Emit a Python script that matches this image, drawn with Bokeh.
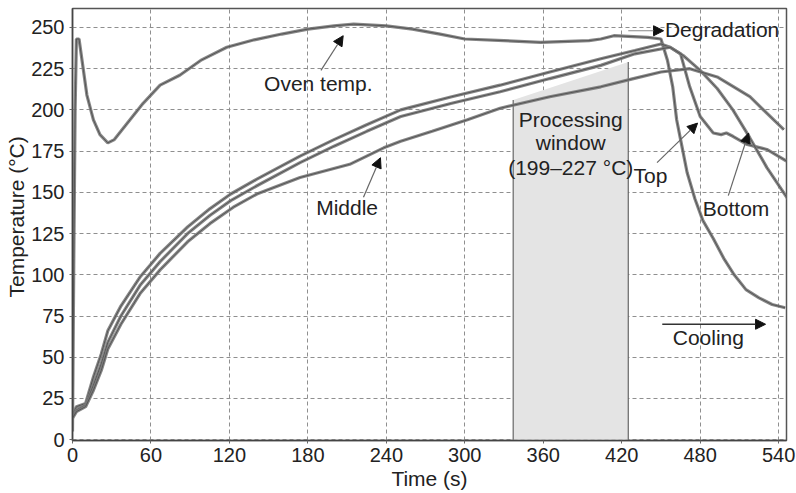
from bokeh.plotting import figure
from bokeh.models import Range1d, Label, Arrow, NormalHead, FixedTicker, Title
from bokeh.embed import file_html
from bokeh.resources import INLINE

# ---- data ----
oven_t = [0, 1, 2, 3, 5, 8, 11, 16, 21, 27, 32, 42, 54, 67, 82, 98, 118, 139, 160, 180,
          200, 215, 240, 260, 281, 300, 330, 358, 395, 404, 414, 440, 450, 455, 459, 462,
          466, 470, 476, 482, 490, 498, 506, 515, 525, 535, 545]
oven_v = [5, 110, 200, 243, 243, 226, 209, 194, 185, 180, 182, 192, 204, 215, 221, 230, 238,
          242.5, 246, 249, 251, 252, 251, 249, 246, 243, 242, 241, 242, 243, 245, 244, 243,
          230, 214, 194, 178, 162, 146, 133, 122, 110, 100, 91, 86, 82, 80]

top_t = [0, 3, 10, 16, 22, 27, 37, 52, 67, 88, 105, 121, 141, 174, 200, 225, 251, 290, 327,
         365, 404, 430, 450, 457, 465, 472, 480, 490, 496, 500, 505, 516, 531, 546]
top_v = [15, 20, 22, 38, 52, 66, 81, 99, 113, 129, 140, 149, 158, 172, 182, 191, 200, 208,
         215, 223, 231, 236, 240, 238, 234, 214, 196, 186, 185, 186, 184, 179, 176, 169]

bottom_t = [0, 3, 10, 16, 22, 27, 37, 52, 67, 88, 105, 121, 141, 174, 200, 225, 251, 290,
            327, 365, 404, 430, 457, 467, 480, 493, 505, 518, 531, 547]
bottom_v = [14, 18, 21, 33, 46, 59, 75, 94, 108, 125, 136, 145, 154, 168, 178, 187, 196, 204,
            211, 219, 227, 234, 238, 233, 224, 213, 200, 183, 165, 146]

middle_t = [0, 3, 10, 16, 22, 27, 37, 52, 67, 88, 105, 123, 141, 174, 212, 238, 251, 275,
            302, 327, 365, 404, 429, 450, 472, 493, 518, 544]
middle_v = [13, 17, 20, 30, 42, 55, 70, 89, 103, 120, 131, 141, 149, 159, 167, 177, 181, 187,
            194, 201, 208, 214, 219, 223, 225, 220, 208, 188]

window_t = [337, 337, 425, 425]
window_v = [0, 206, 229, 0]

x_ticks = [0, 60, 120, 180, 240, 300, 360, 420, 480, 540]
y_ticks = [0, 25, 50, 75, 100, 125, 150, 175, 200, 225, 250]

FONT = "Liberation Sans"
TXT = "#222222"

p = figure(width=796, height=493, output_backend="svg", toolbar_location=None,
           x_range=Range1d(0, 546), y_range=Range1d(-0.5, 261.5),
           min_border_left=72, min_border_right=10, min_border_top=8, min_border_bottom=53)

p.background_fill_color = "white"
p.border_fill_color = "white"
p.outline_line_color = "#555555"
p.outline_line_width = 1.5

# grid
for g in (p.xgrid, p.ygrid):
    g.grid_line_color = "#8f8f8f"
    g.grid_line_dash = "4 3"
    g.grid_line_width = 1
p.xaxis.ticker = FixedTicker(ticks=x_ticks)
p.yaxis.ticker = FixedTicker(ticks=y_ticks)

for ax in (p.xaxis, p.yaxis):
    ax.axis_line_color = "#444444"
    ax.axis_line_width = 1.5
    ax.major_tick_line_color = "#666666"
    ax.major_tick_out = 3
    ax.major_tick_in = 0
    ax.minor_tick_line_color = None
    ax.major_label_text_font = FONT
    ax.major_label_text_font_size = "20px"
    ax.major_label_text_color = TXT
    ax.axis_label_text_font = FONT
    ax.axis_label_text_font_size = "21px"
    ax.axis_label_text_font_style = "normal"
    ax.axis_label_text_color = TXT
p.xaxis.axis_label = "Time (s)"
p.xaxis.major_label_standoff = 4
p.xaxis.axis_label_standoff = 2
p.yaxis.major_label_standoff = 5

# y-axis title as a side title, shifted up to where the reference has it
p.add_layout(Title(text="Temperature (°C)", align="left", offset=143,
                   text_font=FONT, text_font_size="21px", text_font_style="normal",
                   text_color=TXT, standoff=2), "left")

# processing window
p.patch(window_t, window_v, fill_color="#e4e4e4", line_color=None)
p.segment(x0=[window_t[0], window_t[3]], y0=[window_v[0], window_v[3]],
          x1=[window_t[1], window_t[2]], y1=[window_v[1], window_v[2]],
          line_color="#666666", line_width=1.2)

# curves
CUR = "#7a7a7a"
for t, v in ((oven_t, oven_v), (top_t, top_v), (bottom_t, bottom_v), (middle_t, middle_v)):
    p.line(t, v, line_color=CUR, line_width=3.2, line_alpha=0.9)
    p.line(t, v, line_color="#555555", line_width=1)

# annotations
def lab(x, y, text, align="left", baseline="middle"):
    p.add_layout(Label(x=x, y=y, text=text, text_font=FONT, text_font_size="21px",
                       text_color=TXT, text_align=align, text_baseline=baseline))

def arr(x0, y0, x1, y1, color="#666666", width=1.2):
    p.add_layout(Arrow(end=NormalHead(size=10, fill_color="#111111", line_color="#111111"),
                       x_start=x0, y_start=y0, x_end=x1, y_end=y1,
                       line_color=color, line_width=width))

lab(188, 216, "Oven temp.", "center")
arr(190, 224, 207, 245)
lab(210, 141, "Middle", "center")
arr(222.5, 147, 235.5, 171)
lab(381, 194, "Processing", "center")
lab(381, 180, "window", "center")
lab(381, 165, "(199–227 °C)", "center")
lab(453, 249, "Degradation")
arr(425, 248, 452, 248, color="#888888", width=1)
lab(429, 160, "Top")
arr(447, 168, 478, 192)
lab(482, 140, "Bottom")
arr(501.5, 148, 517, 186)
lab(459, 62, "Cooling")
arr(451, 70, 530, 70, color="#333333", width=1.5)

open("out.html", "w").write(file_html(p, INLINE))
